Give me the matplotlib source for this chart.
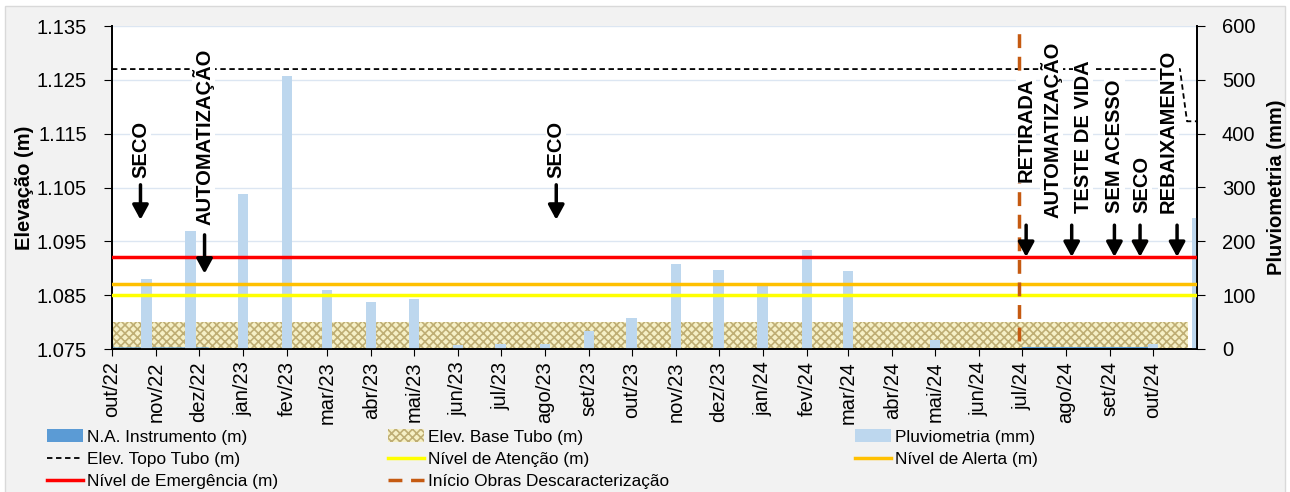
import numpy as np
import pandas as pd
import matplotlib
matplotlib.use("Agg")
import matplotlib.pyplot as plt
import matplotlib.dates as mdates
from matplotlib.patches import Patch, Rectangle
from matplotlib.lines import Line2D

plt.rcParams['font.family'] = ['Liberation Sans', 'DejaVu Sans']
plt.rcParams['hatch.linewidth'] = 1.2

# ---- data ----
# Pluviometria mensal (mm)
rain_dates = ['2022-10-25', '2022-11-25', '2023-01-01', '2023-02-01', '2023-03-01',
              '2023-04-01', '2023-05-01', '2023-06-01', '2023-07-01', '2023-08-01',
              '2023-09-01', '2023-10-01', '2023-11-01', '2023-12-01', '2024-01-01',
              '2024-02-01', '2024-03-01', '2024-04-01', '2024-05-01', '2024-06-01',
              '2024-07-01', '2024-08-01', '2024-09-01', '2024-10-01', '2024-11-01']
rain_mm = [130, 220, 288, 507, 110, 87, 93, 8, 10, 10, 33, 58, 158, 147, 119,
           184, 145, 0, 16, 0, 0, 0, 0, 9, 243]

# N.A. Instrumento (m) - quase sempre seco / no fundo
na_dates = ['2022-10-01', '2022-10-02', '2022-12-08', '2022-12-09',
            '2024-06-30', '2024-07-01', '2024-10-01']
na_vals = [1.0788, 1.0753, 1.0753, np.nan, np.nan, 1.0753, 1.0753]

# Elev. Base Tubo (m)
base_dates = ['2022-10-01', '2024-10-26']
base_vals = [1.080, 1.080]

# Elev. Topo Tubo (m)
topo_dates = ['2022-10-01', '2024-10-20', '2024-10-25', '2024-11-01']
topo_vals = [1.127, 1.127, 1.1173, 1.1173]

nivel_atencao = 1.085
nivel_alerta = 1.087
nivel_emergencia = 1.092
inicio_obras = '2024-06-29'

# annotations: label, text x, text bottom y, arrow x, arrow top y, arrow tip y
notes = [
    ('SECO', '2022-10-21', 1.1068, '2022-10-21', 1.1055, 1.0990),
    ('AUTOMATIZAÇÃO', '2022-12-04', 1.0980, '2022-12-05', 1.0962, 1.0890),
    ('SECO', '2023-08-09', 1.1068, '2023-08-09', 1.1055, 1.0990),
    ('RETIRADA', '2024-07-04', 1.1060, '2024-07-04', 1.0980, 1.0921),
    ('AUTOMATIZAÇÃO', '2024-07-22', 1.0993, None, None, None),
    ('TESTE DE VIDA', '2024-08-13', 1.1003, '2024-08-05', 1.0980, 1.0921),
    ('SEM ACESSO', '2024-09-04', 1.1003, '2024-09-04', 1.0980, 1.0921),
    ('SECO', '2024-09-23', 1.1003, '2024-09-22', 1.0980, 1.0921),
    ('REBAIXAMENTO', '2024-10-12', 1.1003, '2024-10-18', 1.0980, 1.0921),
]

meses = ['jan', 'fev', 'mar', 'abr', 'mai', 'jun', 'jul', 'ago', 'set', 'out', 'nov', 'dez']

# ---- figure ----
fig = plt.figure(figsize=(12.9, 4.92), dpi=100)
fig.patch.set_facecolor('white')
fig.patches.append(Rectangle((5 / 1290, -0.01), 1 - 10 / 1290, 1.01 - 6 / 492,
                             transform=fig.transFigure, facecolor='#f2f2f2',
                             edgecolor='#d9d9d9', lw=1, zorder=-10))

pos = [112 / 1290, 1 - 349 / 492, (1197 - 112) / 1290, (349 - 26) / 492]
ax = fig.add_axes(pos)
ax.set_facecolor('white')
ax2 = ax.twinx()
ax3 = fig.add_axes(pos, sharex=ax, sharey=ax)
ax3.patch.set_visible(False)
ax3.axis('off')

fs = 14.5
x0, x1 = pd.Timestamp('2022-10-01'), pd.Timestamp('2024-11-01')

# bottom layer: grid, base tubo, N.A.
ax.set_ylim(1.075, 1.135)
ax.set_yticks(np.arange(1.075, 1.1351, 0.010))
ax.yaxis.set_major_formatter(matplotlib.ticker.FormatStrFormatter('%.3f'))
ax.grid(axis='y', color='#dce6f2', lw=1)
ax.set_axisbelow(True)
bd = pd.to_datetime(base_dates)
ax.fill_between(bd, 1.075, base_vals, facecolor='#f6f0c6', edgecolor='#bfae74',
                hatch='xxxx', lw=0)
nd = pd.to_datetime(na_dates)
ax.fill_between(nd, 1.075, na_vals, color='#5b9bd5', lw=0)

# middle layer: pluviometria bars
ax2.set_ylim(0, 600)
ax2.set_yticks(range(0, 601, 100))
ax2.bar(pd.to_datetime(rain_dates), rain_mm, width=7.5, color='#bdd7ee', zorder=2)

# top layer: reference lines and notes
ax3.plot(pd.to_datetime(topo_dates), topo_vals, color='black', ls=(0, (3, 2)), lw=1.3)
ax3.axhline(nivel_atencao, color='#ffff00', lw=2.5)
ax3.axhline(nivel_alerta, color='#ffc000', lw=2.5)
ax3.axhline(nivel_emergencia, color='#ff0000', lw=2.5)
xo = mdates.date2num(pd.Timestamp(inicio_obras))
ax3.plot([xo, xo], [1.0765, 1.135], color='#c55a11', ls=(0, (4, 2.5)), lw=2.5)

for label, tx, ty, axx, ay0, ay1 in notes:
    ax3.text(mdates.date2num(pd.Timestamp(tx)), ty, label, rotation=90, ha='center',
             va='bottom', fontsize=fs, fontweight='bold',
             bbox=dict(facecolor='white', edgecolor='none', pad=0.5))
    if axx is not None:
        xa = mdates.date2num(pd.Timestamp(axx))
        ax3.annotate('', xy=(xa, ay1), xytext=(xa, ay0),
                     arrowprops=dict(arrowstyle='-|>,head_length=0.55,head_width=0.3',
                                     color='black', lw=2.5, mutation_scale=16,
                                     shrinkA=0, shrinkB=0))

# x axis
ax.set_xlim(x0, x1)
ticks = pd.date_range('2022-10-01', '2024-10-01', freq='MS')
ax.set_xticks(ticks)
ax.set_xticklabels([f"{meses[t.month - 1]}/{t.strftime('%y')}" for t in ticks],
                   rotation=90, fontsize=fs)
ax.tick_params(axis='x', length=5, pad=4, direction='out')
ax.tick_params(axis='y', labelsize=fs, length=6, pad=12, direction='out')
ax2.tick_params(axis='y', labelsize=fs, length=6, pad=12, direction='out')

for a in (ax, ax2):
    a.spines['top'].set_visible(False)
    for s in ('left', 'right', 'bottom'):
        a.spines[s].set_color('black')
        a.spines[s].set_linewidth(1.3)

ax.set_ylabel('Elevação (m)', fontsize=fs, fontweight='bold', labelpad=2)
ax2.set_ylabel('Pluviometria (mm)', fontsize=fs, fontweight='bold', labelpad=8)

# legends (three columns)
h_na = Patch(facecolor='#5b9bd5', edgecolor='none')
h_base = Patch(facecolor='#f6f0c6', edgecolor='#bfae74', hatch='xxxx', lw=0)
h_rain = Patch(facecolor='#bdd7ee', edgecolor='none')
h_topo = Line2D([], [], color='black', ls=(0, (3, 2)), lw=1.3)
h_aten = Line2D([], [], color='#ffff00', lw=2.5)
h_alert = Line2D([], [], color='#ffc000', lw=2.5)
h_emerg = Line2D([], [], color='#ff0000', lw=2.5)
h_obras = Line2D([], [], color='#c55a11', ls=(0, (4, 2.5)), lw=2.5)

cols = [
    (47, [h_na, h_topo, h_emerg],
     ['N.A. Instrumento (m)', 'Elev. Topo Tubo (m)', 'Nível de Emergência (m)']),
    (388, [h_base, h_aten, h_obras],
     ['Elev. Base Tubo (m)', 'Nível de Atenção (m)', 'Início Obras Descaracterização']),
    (855, [h_rain, h_alert],
     ['Pluviometria (mm)', 'Nível de Alerta (m)']),
]
for xpx, hs, ls in cols:
    fig.legend(hs, ls, loc='upper left', bbox_to_anchor=(xpx / 1290, 1 - 429 / 492),
               frameon=False, borderpad=0, borderaxespad=0, handlelength=2.1,
               handleheight=0.8, handletextpad=0.2, labelspacing=0.4,
               prop={'size': 12.4})

fig.savefig('out.png', dpi=100, facecolor=fig.get_facecolor())
